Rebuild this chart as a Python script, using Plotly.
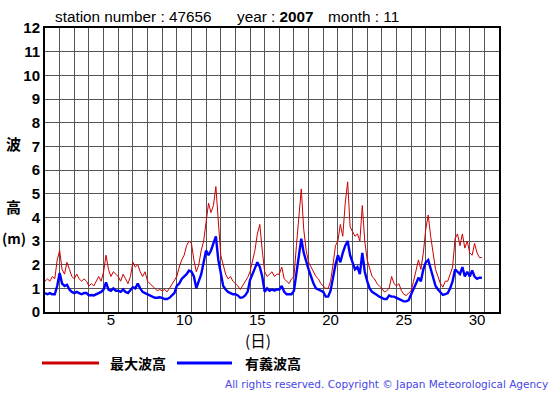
import plotly.graph_objects as go

# ---- data (4-hourly readings, Nov 2007, station 47656) ----
days = list(range(1, 31))
max_wave = [
    1.3, 1.4, 1.3, 1.5, 1.4, 2.2,
    2.6, 1.8, 1.6, 2.1, 1.8, 1.5,
    1.4, 1.6, 1.4, 1.3, 1.4, 1.3,
    1.1, 1.2, 1.1, 1.3, 1.5, 1.3,
    1.7, 2.4, 1.8, 1.5, 1.7, 1.6,
    1.5, 1.3, 1.6, 1.4, 1.2, 1.5,
    2.1, 1.9, 2.0, 1.7, 1.5, 1.7,
    1.3, 1.2, 1.1, 1.0, 0.9, 0.95,
    0.9, 0.95, 0.85, 1.0, 1.15, 1.35,
    1.5, 1.9, 2.2, 2.4, 2.8, 3.0,
    2.9, 2.2, 1.7, 2.0, 2.6, 3.0,
    3.7, 4.6, 4.2, 4.5, 5.3, 3.8,
    2.4, 2.0, 1.6, 1.4, 1.5, 1.3,
    1.2, 1.1, 0.95, 1.1, 1.3, 1.45,
    1.7, 2.1, 2.6, 3.3, 3.7, 2.6,
    1.7, 1.5, 1.6, 1.7, 1.5, 1.6,
    1.6, 1.9, 1.4, 1.3, 1.2, 1.4,
    1.5, 2.8, 3.9, 5.2, 3.5, 2.6,
    2.1, 1.9, 1.7, 1.5, 1.4, 1.2,
    1.1, 1.0, 1.0, 1.3, 2.0, 2.8,
    3.0, 3.7, 3.2, 4.6, 5.5, 3.6,
    3.4, 3.2, 3.3, 3.0, 4.5, 3.0,
    2.2, 1.8, 1.5, 1.4, 1.2, 1.1,
    1.0, 0.85, 0.9, 1.0, 1.5, 1.2,
    1.1, 1.2, 0.9, 0.75, 0.7, 0.8,
    0.9, 1.3, 1.7, 2.2, 1.8, 2.5,
    3.5, 4.1, 3.2, 2.4, 1.8, 1.5,
    1.2, 1.05, 1.3, 1.3, 1.6, 1.9,
    3.1, 3.3, 2.8, 3.3, 2.7, 3.0,
    2.5, 2.4, 2.9, 2.5, 2.3, 2.3,
]
sig_wave = [
    0.8, 0.75, 0.8, 0.75, 0.75, 1.1,
    1.65, 1.2, 1.1, 1.15, 0.95, 0.85,
    0.8, 0.85, 0.8, 0.75, 0.8, 0.8,
    0.7, 0.72, 0.7, 0.75, 0.8, 0.85,
    0.95, 1.25, 0.95, 0.9, 1.0, 0.9,
    0.9, 0.85, 0.95, 0.85, 0.8, 0.95,
    1.05, 1.0, 1.2, 1.0, 0.85, 0.8,
    0.75, 0.7, 0.65, 0.6, 0.6, 0.62,
    0.6, 0.55, 0.55, 0.6, 0.7, 0.8,
    1.1, 1.2, 1.4, 1.5, 1.6, 1.75,
    1.7, 1.5, 1.0, 1.3, 1.6, 2.1,
    2.6, 2.4, 2.6, 2.9, 3.2, 2.2,
    1.6, 1.1, 0.95, 0.85, 0.8, 0.75,
    0.75, 0.7, 0.6, 0.62, 0.7, 0.85,
    1.35, 1.6, 1.9, 2.1, 1.9, 1.5,
    0.85, 1.0, 0.9, 0.95, 0.9, 0.95,
    0.95, 1.1, 0.85, 0.75, 0.75, 0.75,
    0.9, 1.7, 2.5, 3.1, 2.5, 2.1,
    1.8, 1.5, 1.2, 1.0, 0.95, 0.9,
    0.85, 0.65, 0.65, 0.9, 1.5, 2.0,
    2.4, 2.1, 2.5, 2.8, 3.0, 2.4,
    2.1, 1.8, 1.9, 1.6, 2.5, 1.7,
    1.3, 1.0, 0.85, 0.8, 0.72, 0.65,
    0.6, 0.55, 0.55, 0.7, 0.65, 0.65,
    0.6, 0.55, 0.5, 0.45, 0.45, 0.5,
    0.75, 0.95, 1.2, 1.45, 1.3, 1.8,
    2.1, 2.2, 1.8, 1.4, 1.1, 0.95,
    0.85, 0.72, 0.75, 0.8, 1.0, 1.3,
    1.8, 1.7, 1.6, 1.9, 1.5, 1.7,
    1.5, 1.75, 1.5, 1.4, 1.45, 1.45,
]
hours = list(range(0, 720, 4))
x_tick_labels = ["5", "10", "15", "20", "25", "30"]
x_tick_vals = [5, 10, 15, 20, 25, 30]
y_tick_vals = list(range(0, 13))

xpos = [0.5 + h / 24 for h in hours]

fig = go.Figure()
fig.add_trace(go.Scatter(x=xpos, y=sig_wave, mode="lines",
                         line=dict(color="#0000ff", width=2.4), name="有義波高",
                         hoverinfo="skip"))
fig.add_trace(go.Scatter(x=xpos, y=max_wave, mode="lines",
                         line=dict(color="#cc0000", width=1), name="最大波高",
                         hoverinfo="skip"))

grid = "#555555"
fig.update_layout(
    width=555, height=395,
    margin=dict(l=45, r=56, t=28, b=83),
    paper_bgcolor="white", plot_bgcolor="white",
    showlegend=False,
    font=dict(family="Liberation Sans, Arial, sans-serif", color="black", size=14),
    xaxis=dict(range=[0.5, 31.5], tickmode="array", tickvals=x_tick_vals,
               ticktext=x_tick_labels, showgrid=False, zeroline=False,
               ticks="", showline=True, linecolor="black", linewidth=2, mirror=True,
               tickfont=dict(size=15), ticklabelstandoff=-7,
               minor=dict(tickmode="linear", tick0=0.5, dtick=1, showgrid=True,
                          gridcolor=grid, gridwidth=1, ticks="")),
    yaxis=dict(range=[0, 12], tickmode="array", tickvals=y_tick_vals,
               showgrid=True, gridcolor=grid, gridwidth=1, zeroline=False,
               ticks="", showline=True, linecolor="black", linewidth=2, mirror=True,
               tickfont=dict(size=15, family="Liberation Sans, Arial, sans-serif",
                             weight="bold")),
)

ann = []
def txt(x, y, s, size=14, xanchor="left", color="black", family="Liberation Sans, Arial, sans-serif", bold=False):
    ann.append(dict(xref="paper", yref="paper", x=x, y=y, text=s, showarrow=False,
                    xanchor=xanchor, yanchor="middle",
                    font=dict(size=size, color=color, family=family,
                              weight="bold" if bold else "normal")))

pl, pr, pt, pb = 45, 499, 28, 312
def px(X):
    return (X - pl) / (pr - pl)
def py(Y):
    return (pb - Y) / (pb - pt)

txt(px(53), py(17), "station number : 47656", size=15.3)
txt(px(235), py(17), "year : <b>2007</b>", size=15.3)
txt(px(326), py(17), "month : 11", size=15.3)
jp = "Noto Sans CJK JP, sans-serif"
txt(px(13), py(143), "波", size=15, xanchor="center", family=jp, bold=True)
txt(px(13), py(207), "高", size=15, xanchor="center", family=jp, bold=True)
txt(px(14), py(238), "(m)", size=14, xanchor="center", family=jp, bold=True)
txt(px(258), py(340), "(日)", size=15.5, xanchor="center", family=jp)
txt(px(108), py(363), "最大波高", size=14, family=jp, bold=True)
txt(px(243), py(363), "有義波高", size=14, family=jp, bold=True)
txt(px(550), py(384), "All rights reserved. Copyright © Japan Meteorological Agency",
    size=10.5, xanchor="right", color="#4646e6", family="DejaVu Sans, sans-serif")
fig.update_layout(annotations=ann)

fig.add_shape(type="line", xref="paper", yref="paper", x0=px(42), x1=px(99),
              y0=py(363), y1=py(363), line=dict(color="#cc0000", width=3))
fig.add_shape(type="line", xref="paper", yref="paper", x0=px(177), x1=px(232),
              y0=py(363), y1=py(363), line=dict(color="#0000ff", width=3))

fig.write_html("out.html", config={"displayModeBar": False},
               post_script="document.body.style.margin='0px';")
